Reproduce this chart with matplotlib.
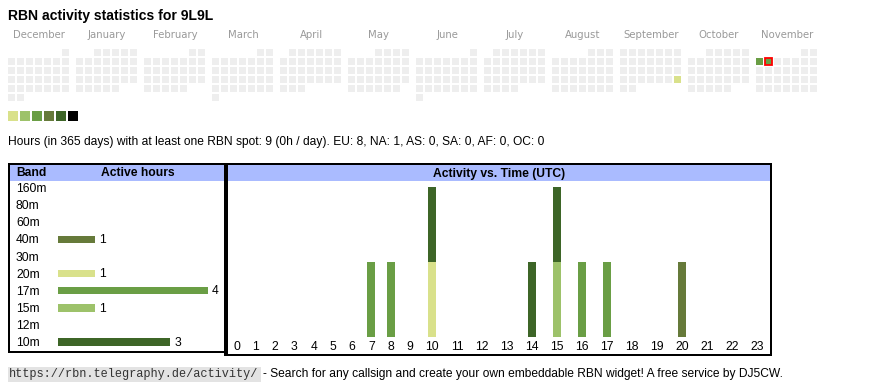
import datetime as dt
import numpy as np
import matplotlib
matplotlib.use("Agg")
import matplotlib.pyplot as plt
from matplotlib.patches import Rectangle
from matplotlib.transforms import blended_transform_factory

# --- data ---
callsign = "9L9L"
months = ["2024-12", "2025-01", "2025-02", "2025-03", "2025-04", "2025-05",
          "2025-06", "2025-07", "2025-08", "2025-09", "2025-10", "2025-11"]
active_dates = ["2025-09-28", "2025-11-03", "2025-11-04"]
active_day_hours = [1, 4, 4]
today = "2025-11-04"

level_limits = [1, 2, 4, 8, 16, 24]
level_colors = ["#d9e18b", "#9dc26a", "#6a9e45", "#667a3a", "#3d6527", "#000000"]

bands = ["160m", "80m", "60m", "40m", "30m", "20m", "17m", "15m", "12m", "10m"]
band_hours = [0, 0, 0, 1, 0, 1, 4, 1, 0, 3]
band_colors = {"40m": "#667a3a", "20m": "#d9e18b", "17m": "#6a9e45",
               "15m": "#9dc26a", "10m": "#3d6527"}

hours = list(range(24))
#             0  1  2  3  4  5  6  7  8  9 10 11 12 13 14 15 16 17 18 19 20 21 22 23
hours_40m = [0, 0, 0, 0, 0, 0, 0, 0, 0, 0, 0, 0, 0, 0, 0, 0, 0, 0, 0, 0, 1, 0, 0, 0]
hours_20m = [0, 0, 0, 0, 0, 0, 0, 0, 0, 0, 1, 0, 0, 0, 0, 0, 0, 0, 0, 0, 0, 0, 0, 0]
hours_17m = [0, 0, 0, 0, 0, 0, 0, 1, 1, 0, 0, 0, 0, 0, 0, 0, 1, 1, 0, 0, 0, 0, 0, 0]
hours_15m = [0, 0, 0, 0, 0, 0, 0, 0, 0, 0, 0, 0, 0, 0, 0, 1, 0, 0, 0, 0, 0, 0, 0, 0]
hours_10m = [0, 0, 0, 0, 0, 0, 0, 0, 0, 0, 1, 0, 0, 0, 1, 1, 0, 0, 0, 0, 0, 0, 0, 0]
hour_series = {"40m": hours_40m, "20m": hours_20m, "17m": hours_17m,
               "15m": hours_15m, "10m": hours_10m}

stats_text = ("Hours (in 365 days) with at least one RBN spot: 9 (0h / day). "
              "EU: 8, NA: 1, AS: 0, SA: 0, AF: 0, OC: 0")
footer_url = "https://rbn.telegraphy.de/activity/"
footer_text = "- Search for any callsign and create your own embeddable RBN widget! A free service by DJ5CW."

SANS = ["Liberation Sans", "DejaVu Sans"]
W, H = 870, 390
fig = plt.figure(figsize=(W / 100, H / 100), dpi=100)


def px_axes(x0, y0, x1, y1):
    # axes placed by pixel box (top-left origin)
    return fig.add_axes([x0 / W, 1 - y1 / H, (x1 - x0) / W, (y1 - y0) / H])


bg = px_axes(0, 0, W, H)
bg.set_xlim(0, W)
bg.set_ylim(H, 0)
bg.axis("off")

bg.text(8, 16, "RBN activity statistics for " + callsign, family=SANS,
        fontsize=10.1, fontweight="bold", va="center", ha="left")

# --- calendar ---
act = {dt.date.fromisoformat(d): h for d, h in zip(active_dates, active_day_hours)}
today_d = dt.date.fromisoformat(today)
for i, m in enumerate(months):
    first = dt.date.fromisoformat(m + "-01")
    x0 = 8 + 68 * i
    bg.text(x0 + 31, 35.5, first.strftime("%B"), family="DejaVu Sans", fontsize=7.3,
            color="#999999", ha="center", va="center")
    nxt = (first.replace(day=28) + dt.timedelta(days=4)).replace(day=1)
    ndays = (nxt - first).days
    for d in range(ndays):
        day = first + dt.timedelta(days=d)
        pos = d + first.weekday()
        col, row = pos % 7, pos // 7
        color = "#eeeeee"
        if day in act:
            lvl = np.searchsorted(level_limits, act[day])
            color = level_colors[lvl]
        edge = "#ff0000" if day == today_d else "none"
        bg.add_patch(Rectangle((x0 + 9 * col, 49 + 9 * row), 7, 7, facecolor=color,
                               edgecolor=edge, linewidth=1.3))

for k, c in enumerate(level_colors):
    bg.add_patch(Rectangle((8 + 12 * k, 111), 10, 10, facecolor=c, edgecolor="none"))

bg.text(8, 142.5, stats_text, family=SANS, fontsize=8.62, va="center", ha="left")

# --- table frames ---
bg.add_patch(Rectangle((8, 163), 218, 190, facecolor="black"))
bg.add_patch(Rectangle((10, 165), 214, 186, facecolor="white"))
bg.add_patch(Rectangle((224, 163), 548, 193, facecolor="black"))
bg.add_patch(Rectangle((228, 165), 542, 189, facecolor="white"))
bg.add_patch(Rectangle((10, 165), 214, 15.7, facecolor="#aabbff"))
bg.add_patch(Rectangle((228, 165), 542, 15.7, facecolor="#aabbff"))
bg.text(16, 173.5, "Band", family=SANS, fontsize=8.7, fontweight="bold", va="center")
bg.text(138, 173.5, "Active hours", family=SANS, fontsize=8.7, fontweight="bold",
        va="center", ha="center")
bg.text(499, 173.5, "Activity vs. Time (UTC)", family=SANS, fontsize=8.7,
        fontweight="bold", va="center", ha="center")

# --- band bars ---
ax_l = px_axes(58, 179.5, 220, 350.5)
ax_l.patch.set_alpha(0)
ax_l.set_xlim(0, 162 / 37.5)
ax_l.set_ylim(len(bands) - 0.5, -0.5)
ax_l.axis("off")
ypos = np.arange(len(bands))
ax_l.barh(ypos, band_hours, height=0.44,
          color=[band_colors.get(b, "white") for b in bands])
tr = blended_transform_factory(bg.transData, ax_l.transData)
for y, b, v in zip(ypos, bands, band_hours):
    ax_l.annotate(b, (16, y), xycoords=tr, xytext=(0, -0.8), textcoords="offset points",
                  family=SANS, fontsize=8.7, va="center")
    if v > 0:
        ax_l.annotate(str(v), (v, y), xytext=(2.6, -0.6), textcoords="offset points",
                      family=SANS, fontsize=8.7, va="center")

# --- hourly stacked bars ---
col_w = [13.5 + 5.75 * len(str(h)) for h in hours]
edges = np.concatenate([[0], np.cumsum(col_w)])
centers = (edges[:-1] + edges[1:]) / 2
ax_r = px_axes(227, 180, 227 + edges[-1], 337)
ax_r.patch.set_alpha(0)
ax_r.set_xlim(0, edges[-1])
ax_r.set_ylim(0, 157 / 75)
bottom = np.zeros(24)
for b in bands:
    if b in hour_series:
        vals = np.array(hour_series[b])
        ax_r.bar(centers, vals, width=8, bottom=bottom, color=band_colors[b])
        bottom += vals
ax_r.set_xticks(centers)
ax_r.set_xticklabels([str(h) for h in hours], family=SANS, fontsize=8.7)
ax_r.tick_params(axis="x", length=0, pad=3)
ax_r.set_yticks([])
for s in ax_r.spines.values():
    s.set_visible(False)

# --- footer ---
bg.add_patch(Rectangle((8, 367), 253, 15, facecolor="#e3e3e3"))
bg.text(9, 374.5, footer_url, family="Liberation Mono", fontsize=8.55,
        color="#333333", va="center")
bg.text(263, 374.5, footer_text, family=SANS, fontsize=8.62, va="center")

fig.savefig("out.png", dpi=100)
